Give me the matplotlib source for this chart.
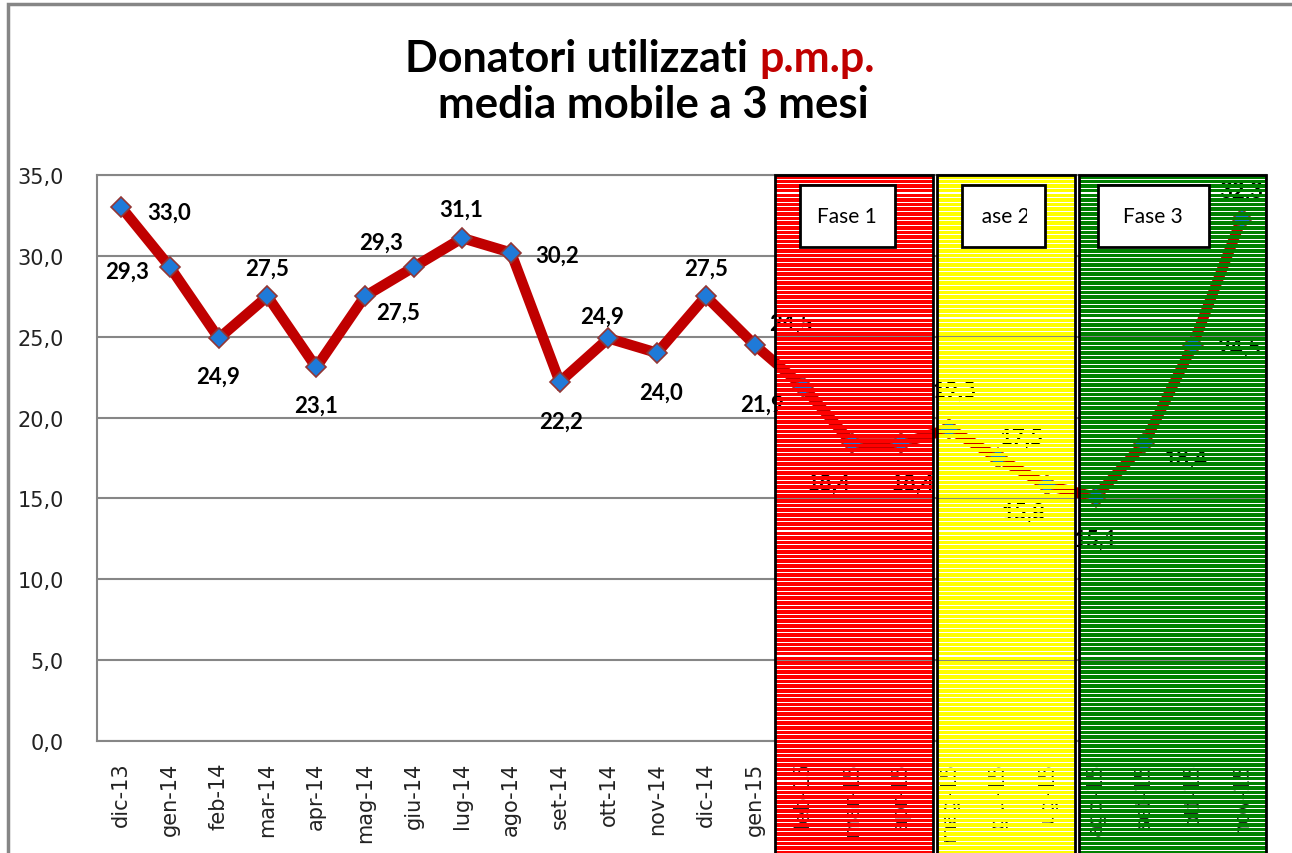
import numpy as np
import matplotlib.pyplot as plt
from matplotlib.patches import Rectangle
from matplotlib.transforms import blended_transform_factory

# dati: media mobile a 3 mesi
mesi = ['dic-13', 'gen-14', 'feb-14', 'mar-14', 'apr-14', 'mag-14', 'giu-14',
        'lug-14', 'ago-14', 'set-14', 'ott-14', 'nov-14', 'dic-14', 'gen-15',
        'feb-15', 'mar-15', 'apr-15', 'mag-15', 'giu-15', 'lug-15',
        'ago-15', 'set-15', 'ott-15', 'nov-15']
valori = [33.0, 29.3, 24.9, 27.5, 23.1, 27.5, 29.3, 31.1, 30.2, 22.2, 24.9,
          24.0, 27.5, 24.5, 21.9, 18.4, 18.4, 19.3, 17.5, 15.8, 15.1, 18.4,
          24.5, 32.3]

# posizione delle etichette (offset in pixel)
offset = [(48, -5), (-43, -4), (-1, -38), (0, 28), (0, -38), (33, -16),
          (-33, 25), (-1, 29), (46, -3), (1, -39), (-6, 22), (4, -39),
          (0, 28), (37, 22), (-41, -17), (-23, -40), (12, -40), (5, 39),
          (23, 21), (-23, -27), (0, -42), (41, -15), (46, -2), (0, 28)]

# fasi: (nome, x0, x1, colore) in unita di categoria
fasi = [('Fase 1', 13.42, 16.67, '#FF0000'),
        ('Fase 2', 16.75, 19.57, '#FFFF00'),
        ('Fase 3', 19.66, 23.50, '#008000')]

W, H = 1292, 854
fig = plt.figure(figsize=(W / 100, H / 100), dpi=100)
ax = fig.add_axes([97 / W, 1 - 742 / H, (1266 - 97) / W, (742 - 176) / H])

x = np.arange(len(mesi))
ax.plot(x, valori, color='#C00000', lw=7.5, zorder=3, solid_joinstyle='miter')
ax.plot(x, valori, ls='none', marker='D', ms=10.5, mfc='#1F7AD8', mec='#943634',
        mew=1.2, zorder=4)

for i, v in enumerate(valori):
    ax.annotate(f'{v:.1f}'.replace('.', ','), (x[i], v), xytext=offset[i],
                textcoords='offset pixels', ha='center', va='center',
                fontsize=16, fontweight='bold', family='Lato', zorder=5)

ax.set_xlim(-0.5, len(mesi) - 0.5)
ax.set_ylim(0, 35)
ax.set_yticks(np.arange(0, 36, 5))
ax.set_yticklabels([f'{t:.1f}'.replace('.', ',') for t in np.arange(0, 36, 5)])
ax.set_xticks(x)
ax.set_xticklabels(mesi, rotation=90)
ax.tick_params(axis='both', length=0, labelsize=15, colors='#222222')
ax.tick_params(axis='x', pad=15)
ax.tick_params(axis='y', pad=24)
ax.grid(axis='y', color='#868686', lw=1.5)
ax.set_axisbelow(True)
for s in ax.spines.values():
    s.set_color('#868686')
    s.set_linewidth(1.5)

# pannelli a strisce sopra il grafico
tr = blended_transform_factory(ax.transData, fig.transFigure)
top = 176
periodo = 4.63
for nome, x0, x1, col in fasi:
    y = top
    while y < H:
        h = min(3.6, H - y)
        ax.add_patch(Rectangle((x0, 1 - (y + h) / H), x1 - x0, h / H,
                               transform=tr, facecolor=col, edgecolor='none',
                               clip_on=False, zorder=10))
        y += periodo
    ax.add_patch(Rectangle((x0, -0.05), x1 - x0, 1.05 - top / H, transform=tr,
                           facecolor='none', edgecolor='black', lw=2,
                           clip_on=False, zorder=11))

# riquadri con i nomi delle fasi (pixel)
box = [(800, 895, 'Fase 1', 847, None),
       (962, 1045, 'Fase 2', 1000, (982, 1027)),
       (1098, 1209, 'Fase 3', 1153, None)]
for bx0, bx1, nome, tx, clip in box:
    r = Rectangle((bx0 / W, 1 - 248 / H), (bx1 - bx0) / W, 62 / H,
                  transform=fig.transFigure, facecolor='white',
                  edgecolor='black', lw=2, zorder=12)
    fig.add_artist(r)
    t = fig.text(tx / W, 1 - 217 / H, nome, ha='center', va='center',
                 fontsize=15, family='Lato', zorder=13)
    if clip:
        c = Rectangle((clip[0] / W, 1 - 248 / H), (clip[1] - clip[0]) / W,
                      62 / H, transform=fig.transFigure)
        t.set_clip_path(c)

# titolo
fig.text(748 / W, 1 - 72 / H, 'Donatori utilizzati', ha='right', va='baseline',
         fontsize=31, fontweight='bold', family='Lato')
fig.text(759 / W, 1 - 72 / H, 'p.m.p.', ha='left', va='baseline',
         fontsize=31, fontweight='bold', family='Lato', color='#C00000')
fig.text(653 / W, 1 - 118 / H, 'media mobile a 3 mesi', ha='center',
         va='baseline', fontsize=31.5, fontweight='bold', family='Lato')

# cornice esterna
fig.add_artist(Rectangle((8 / W, -0.1), 1.2, 1.1 - 5 / H,
                         transform=fig.transFigure, fill=False,
                         edgecolor='#868686', lw=2.5))

fig.savefig('out.png', dpi=100)
